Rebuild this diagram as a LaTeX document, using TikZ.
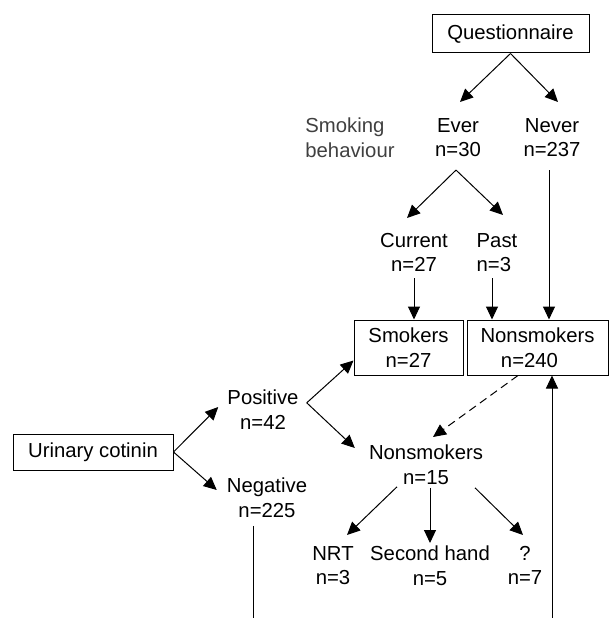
\documentclass[tikz,border=0pt]{standalone}
\usepackage{fontspec}
\setmainfont{Liberation Sans}
\usetikzlibrary{arrows.meta}
\begin{document}
\begin{tikzpicture}[
    x=1pt, y=-1pt,
    every node/.style = {inner sep=0pt, align=center, font=\fontsize{20.3pt}{24.5pt}\selectfont},
    box/.style = {draw, line width=1pt},
    lbl/.style = {anchor=north},
    arr/.style = {line width=1pt, -{Triangle[length=13pt, width=12pt]}},
    plain/.style = {line width=1pt}
    ]
    \useasboundingbox (0,0) rectangle (609,618);
    % questionnaire branch
    \node [box, minimum width=157pt, minimum height=38pt] (quest) at (510.5,34) {Questionnaire};
    \node [lbl, align=left, text=black!75] (behav) at (350,118) {Smoking\\behaviour};
    \node [lbl] (ever) at (458,118) {Ever\\n=30};
    \node [lbl] (never) at (552,118) {Never\\n=237};
    \node [lbl] (current) at (414,233) {Current\\n=27};
    \node [lbl, align=left] (past) at (497,233) {Past\\n=3};
    \node [box, minimum width=109pt, minimum height=55pt] (smok) at (408.5,347.5) {Smokers\\n=27};
    \node [box, minimum width=141pt, minimum height=55pt] (nonsm) at (537.5,347.5) {Nonsmokers\\n=240\hspace*{16pt}};
    % cotinin branch
    \node [box, minimum width=160pt, minimum height=36pt] (uc) at (93,452) {Urinary cotinin};
    \node [lbl] (pos) at (263,390) {Positive\\n=42};
    \node [lbl] (neg) at (267,478) {Negative\\n=225};
    \node [lbl] (ns15) at (426,445) {Nonsmokers\\n=15};
    \node [lbl] (nrt) at (333,546) {NRT\\n=3};
    \node [lbl] (second) at (430,546) {Second hand\\n=5};
    \node [lbl] (unk) at (525,546) {?\\n=7};
    \coordinate (negend) at (253,618);
    \coordinate (nsbot) at (552,618);

    \draw [arr] (quest.south) -- ([xshift=2pt,yshift=16pt]ever.north);
    \draw [arr] (quest.south) -- ([xshift=6pt,yshift=16pt]never.north);
    \draw [arr] ([xshift=-2pt,yshift=-13pt]ever.south) -- ([xshift=-7pt,yshift=15pt]current.north);
    \draw [arr] ([xshift=-2pt,yshift=-13pt]ever.south) -- ([xshift=6pt,yshift=18pt]past.north);
    \draw [arr] ([xshift=-3pt,yshift=-13pt]never.south) -- ([xshift=-3pt]never.south |- nonsm.north);
    \draw [arr] ([yshift=-6pt]current.south) -- (current.south |- smok.north);
    \draw [arr] ([xshift=-5pt,yshift=-6pt]past.south) -- ([xshift=-5pt]past.south |- nonsm.north);

    \draw [arr] (uc.east) -- ([xshift=-9pt,yshift=-17pt]pos.north west);
    \draw [arr] (uc.east) -- ([xshift=-10pt,yshift=-12pt]neg.north west);
    \draw [arr] ([xshift=8pt,yshift=7pt]pos.east) -- ([yshift=15pt]smok.south west);
    \draw [arr] ([xshift=8pt,yshift=7pt]pos.east) -- ([xshift=-14pt,yshift=-3pt]ns15.north west);
    \draw [arr, dash pattern=on 8pt off 5pt] ([xshift=-19.5pt]nonsm.south) -- ([xshift=7pt,yshift=8pt]ns15.north);
    \draw [arr] ([xshift=-29pt,yshift=-2pt]ns15.south) -- ([xshift=14pt,yshift=11pt]nrt.north);
    \draw [arr] ([yshift=-3pt]ns15.south -| second.north) -- ([yshift=3pt]second.north);
    \draw [arr] ([xshift=49pt,yshift=-3pt]ns15.south) -- ([xshift=-2pt,yshift=11pt]unk.north);
    \draw [plain] ([xshift=-14pt,yshift=-8pt]neg.south) -- (negend);
    \draw [arr] (nsbot) -- (nsbot |- nonsm.south);
\end{tikzpicture}
\end{document}
